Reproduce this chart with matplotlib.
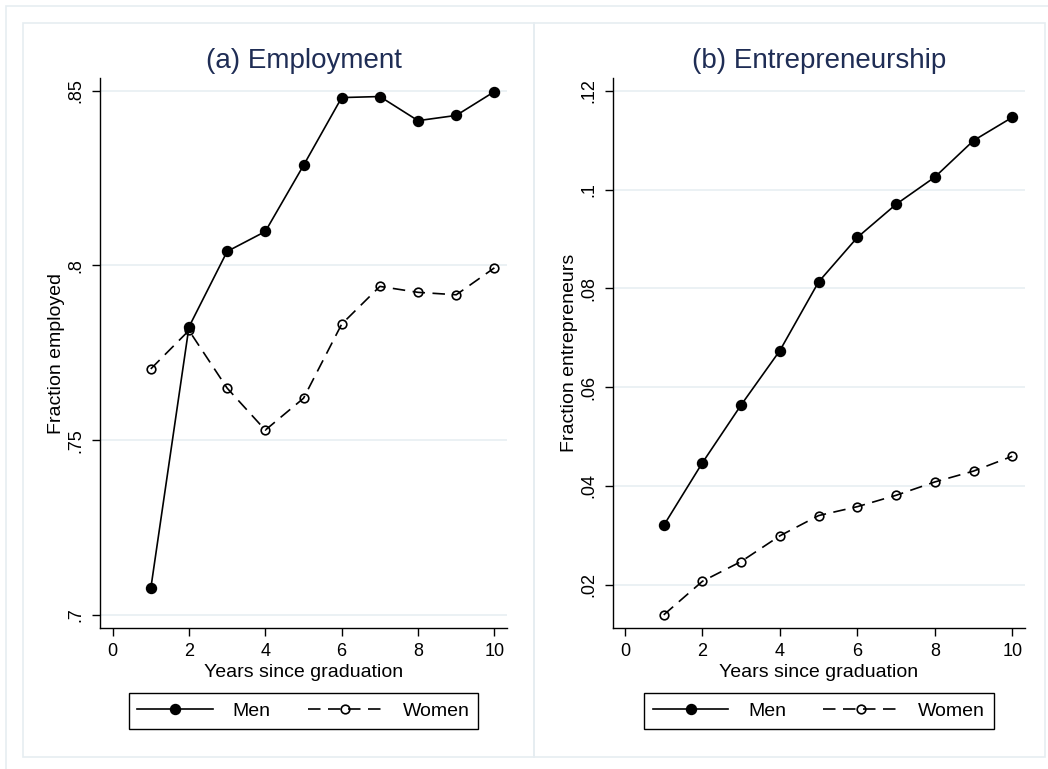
import matplotlib.pyplot as plt
from matplotlib.patches import Rectangle
from matplotlib.lines import Line2D
from matplotlib.ticker import FuncFormatter

plt.rcParams['font.family'] = ['Liberation Sans', 'DejaVu Sans']

years = [1, 2, 3, 4, 5, 6, 7, 8, 9, 10]

emp_men = [0.7076, 0.7824, 0.8040, 0.8097, 0.8286, 0.8480, 0.8483, 0.8414, 0.8429, 0.8497]
emp_women = [0.7704, 0.7814, 0.7649, 0.7529, 0.7620, 0.7832, 0.7940, 0.7923, 0.7916, 0.7993]

ent_men = [0.0320, 0.0447, 0.0564, 0.0674, 0.0813, 0.0903, 0.0970, 0.1025, 0.1099, 0.1146]
ent_women = [0.0139, 0.0207, 0.0247, 0.0299, 0.0340, 0.0358, 0.0381, 0.0408, 0.0430, 0.0460]

emp_ticks = [0.7, 0.75, 0.8, 0.85]
ent_ticks = [0.02, 0.04, 0.06, 0.08, 0.1, 0.12]
x_ticks = [0, 2, 4, 6, 8, 10]

TITLE_COL = '#1f2d55'
GRID_COL = '#e6eef1'
FRAME_COL = '#e6edf1'


def stata_fmt(v, pos=None):
    # Stata style: .85 instead of 0.85
    s = ('%g' % round(v, 4))
    if s.startswith('0.'):
        s = s[1:]
    return s


def draw_panel(ax, men, women, yticks, ylim, title, ylabel):
    for t in yticks:
        ax.axhline(t, color=GRID_COL, lw=1.1, zorder=0)
    ax.plot(years, men, color='black', lw=1.2, marker='o', ms=7.2,
            markerfacecolor='black', markeredgecolor='black', zorder=3)
    ax.plot(years, women, color='black', lw=1.2, dashes=(7.5, 4.5), marker='o',
            ms=6.2, markerfacecolor='none', markeredgecolor='black',
            markeredgewidth=1.2, zorder=4)
    ax.set_ylim(ylim)
    ax.set_xlim(-0.33, 10.33)
    ax.set_xticks(x_ticks)
    ax.set_yticks(yticks)
    ax.yaxis.set_major_formatter(FuncFormatter(stata_fmt))
    for lab in ax.get_yticklabels():
        lab.set_rotation(90)
        lab.set_va('center')
    ax.tick_params(axis='both', length=6, width=1.0, labelsize=13, pad=5)
    ax.spines['top'].set_visible(False)
    ax.spines['right'].set_visible(False)
    ax.spines['left'].set_linewidth(1.0)
    ax.spines['bottom'].set_linewidth(1.0)
    ax.set_xlabel('Years since graduation', fontsize=14, labelpad=3)
    ax.set_ylabel(ylabel, fontsize=14, labelpad=2)
    ax.set_title(title, fontsize=20, color=TITLE_COL, pad=7)


fig = plt.figure(figsize=(10.48, 7.69), dpi=100)

# panel frames
W, H = 1048, 769
fig.add_artist(Rectangle((6 / W, -0.1), 1.2, (H - 6) / H + 0.1, transform=fig.transFigure,
                         fill=False, edgecolor=FRAME_COL, lw=1.2))
for x0, x1 in [(23, 534), (534, 1045)]:
    fig.add_artist(Rectangle((x0 / W, (H - 757) / H), (x1 - x0) / W, (757 - 23) / H,
                             transform=fig.transFigure, fill=False,
                             edgecolor=FRAME_COL, lw=1.2))

ax1 = fig.add_axes([100 / W, (H - 628) / H, 407 / W, 550 / H])
ax2 = fig.add_axes([612.7 / W, (H - 628) / H, 412.3 / W, 550 / H])
ax1.patch.set_alpha(0)
ax2.patch.set_alpha(0)

draw_panel(ax1, emp_men, emp_women, emp_ticks, (0.6963, 0.8536),
           '(a) Employment', 'Fraction employed')
draw_panel(ax2, ent_men, ent_women, ent_ticks, (0.01124, 0.12257),
           '(b) Entrepreneurship', 'Fraction entrepreneurs')
ax2.set_xlim(-0.318, 10.33)

handles = [
    Line2D([], [], color='black', lw=1.2, marker='o', ms=7.2),
    Line2D([], [], color='black', lw=1.2, dashes=(7.5, 4.5), marker='o', ms=6.2,
           markerfacecolor='none', markeredgewidth=1.2),
]
for ax in (ax1, ax2):
    pos = ax.get_position()
    ax.legend(handles, ['Men', 'Women'], ncol=2, loc='center',
              bbox_to_anchor=(pos.x0 + pos.width / 2, (H - 711) / H),
              bbox_transform=fig.transFigure, fontsize=14, frameon=True,
              fancybox=False, framealpha=1, edgecolor='black',
              handlelength=3.9, handletextpad=1.0, columnspacing=1.9,
              borderpad=0.45).get_frame().set_linewidth(1.0)

fig.savefig('out.png', dpi=100)
